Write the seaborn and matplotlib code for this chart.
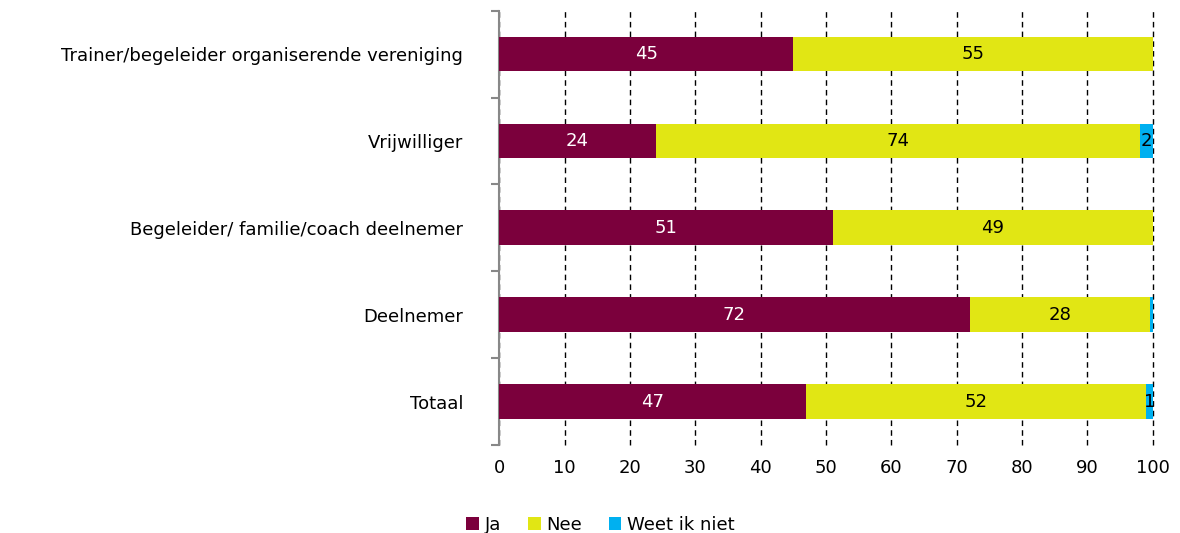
import matplotlib
matplotlib.use("Agg")
import matplotlib.pyplot as plt
import seaborn as sns
import pandas as pd
import numpy as np

categories = ["Trainer/begeleider organiserende vereniging", "Vrijwilliger",
              "Begeleider/ familie/coach deelnemer", "Deelnemer", "Totaal"]
ja = [45, 24, 51, 72, 47]
nee = [55, 74, 49, 27.6, 52]
weet_niet = [0, 2, 0, 0.4, 1]

series = ["Ja", "Nee", "Weet ik niet"]
colors = ["#7B003C", "#E1E614", "#00B0F0"]
text_colors = ["white", "black", "black"]

df = pd.DataFrame({"cat": categories, "Ja": ja, "Nee": nee, "Weet ik niet": weet_niet})
cum = df[series].cumsum(axis=1)

sns.set_style("white")
plt.rcParams["font.family"] = ["DejaVu Sans"]
plt.rcParams["text.color"] = "black"
plt.rcParams["xtick.color"] = "black"
plt.rcParams["ytick.color"] = "black"

fig, ax = plt.subplots(figsize=(11.8, 5.33), dpi=100)

# draw from the largest cumulative down so segments stack
for s, c in reversed(list(zip(series, colors))):
    sns.barplot(x=cum[s], y=df["cat"], color=c, width=0.4, ax=ax,
                saturation=1, orient="h", label=s, zorder=3, linewidth=0)

for i, row in df.iterrows():
    start = 0
    for s, tc in zip(series, text_colors):
        v = row[s]
        if round(v) >= 1:
            ax.text(start + v / 2, i, f"{round(v)}", ha="center", va="center",
                    color=tc, fontsize=13, zorder=4)
        start += v

ax.set_xlim(0, 100)
ax.set_ylim(4.5, -0.5)
ax.set_xticks(range(0, 101, 10))
ax.set_xlabel("")
ax.set_ylabel("")
ax.xaxis.grid(True, color="black", linestyle=(0, (4, 3)), linewidth=1)
for gl in ax.get_xgridlines():
    gl.set_clip_on(False)
ax.set_axisbelow(True)
for sp in ["top", "right", "bottom"]:
    ax.spines[sp].set_visible(False)
ax.spines["left"].set_color("#888888")
ax.spines["left"].set_linewidth(1.5)

ax.set_yticks(np.arange(-0.5, 5, 1), minor=True)
ax.tick_params(axis="y", which="major", left=False, length=0, labelsize=13,
               labelcolor="black", pad=26)
ax.tick_params(axis="y", which="minor", left=True, length=6, color="#888888", width=1.5)
ax.tick_params(axis="x", length=0, labelsize=13, labelcolor="black", pad=10)

handles, labels = ax.get_legend_handles_labels()
order = [labels.index(s) for s in series]
ax.legend([handles[k] for k in order], series, loc="upper center",
          bbox_to_anchor=(0.155, -0.125), ncol=3, frameon=False, fontsize=13,
          handlelength=0.7, handleheight=0.7, handletextpad=0.3, columnspacing=1.5)

plt.subplots_adjust(left=0.423, right=0.977, top=0.98, bottom=0.165)
plt.savefig("out.png", dpi=100)
